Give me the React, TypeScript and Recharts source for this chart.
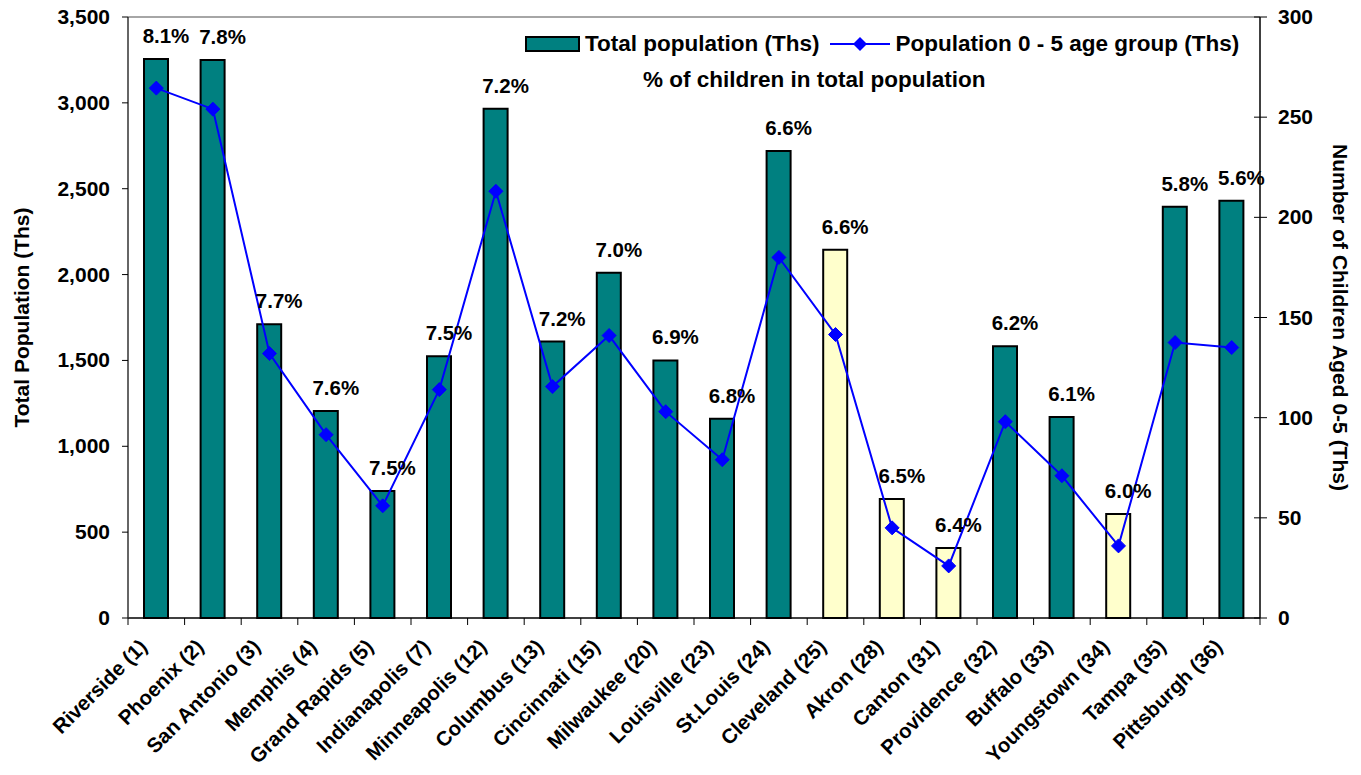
import React from "react";
import {
  ComposedChart,
  Bar,
  Line,
  XAxis,
  YAxis,
  Cell,
  LabelList,
  ReferenceLine,
} from "recharts";

const cities = [
  "Riverside (1)",
  "Phoenix (2)",
  "San Antonio (3)",
  "Memphis (4)",
  "Grand Rapids (5)",
  "Indianapolis (7)",
  "Minneapolis (12)",
  "Columbus (13)",
  "Cincinnati (15)",
  "Milwaukee (20)",
  "Louisville (23)",
  "St.Louis (24)",
  "Cleveland (25)",
  "Akron (28)",
  "Canton (31)",
  "Providence (32)",
  "Buffalo (33)",
  "Youngstown (34)",
  "Tampa (35)",
  "Pittsburgh (36)",
];

const totalPopulation = [
  3255, 3250, 1710, 1205, 740, 1525, 2965, 1610, 2010, 1500, 1160, 2720, 2145,
  693, 408, 1582, 1170, 605, 2395, 2430,
];

const children = [
  264.5, 254, 132, 91.5, 56, 114, 213, 115.5, 141, 103, 79, 180, 141.5, 45,
  26, 98, 71, 36, 137.5, 135,
];

const pctChildren = [
  "8.1%", "7.8%", "7.7%", "7.6%", "7.5%", "7.5%", "7.2%", "7.2%", "7.0%",
  "6.9%", "6.8%", "6.6%", "6.6%", "6.5%", "6.4%", "6.2%", "6.1%", "6.0%",
  "5.8%", "5.6%",
];

const highlighted = [
  "Cleveland (25)",
  "Akron (28)",
  "Canton (31)",
  "Youngstown (34)",
];

const leftTicks = [0, 500, 1000, 1500, 2000, 2500, 3000, 3500];
const rightTicks = [0, 50, 100, 150, 200, 250, 300];

const data = cities.map((c, i) => ({
  city: c,
  total: totalPopulation[i],
  kids: children[i],
  pct: pctChildren[i],
}));

const FONT = "'Liberation Sans', Arial, sans-serif";
const TEAL = "#008080";
const PALE = "#FFFFCC";
const BLUE = "#0000FF";

const CHART_W = 1361;
const PLOT_LEFT = 128;
const PLOT_RIGHT_MARGIN = 101;
const HALF_BAND = (CHART_W - PLOT_LEFT - PLOT_RIGHT_MARGIN) / cities.length / 2;

const fmt = (v: number) => v.toLocaleString("en-US");

const XTick = (props: any) => {
  const { x, y, payload, index } = props;
  const axisY = y - 2;
  return (
    <g>
      <line x1={x - HALF_BAND} x2={x - HALF_BAND} y1={axisY} y2={axisY + 7} stroke="#000" />
      {index === cities.length - 1 && (
        <line x1={x + HALF_BAND} x2={x + HALF_BAND} y1={axisY} y2={axisY + 7} stroke="#000" />
      )}
      <text
        transform={`translate(${x - 8},${y + 28}) rotate(-45)`}
        textAnchor="end"
        fontFamily={FONT}
        fontWeight="bold"
        fontSize={20.5}
        fill="#000"
      >
        {payload.value}
      </text>
    </g>
  );
};

const LeftTick = (props: any) => {
  const { x, y, payload } = props;
  return (
    <text
      x={x}
      y={y}
      dy={7}
      textAnchor="end"
      fontFamily={FONT}
      fontWeight="bold"
      fontSize={21}
      fill="#000"
    >
      {fmt(payload.value)}
    </text>
  );
};

const RightTick = (props: any) => {
  const { x, y, payload } = props;
  return (
    <g>
      <line x1={x - 18} x2={x - 5} y1={y} y2={y} stroke="#000" strokeWidth={1} />
      <text
        x={x + 6}
        y={y}
        dy={7}
        textAnchor="start"
        fontFamily={FONT}
        fontWeight="bold"
        fontSize={21}
        fill="#000"
      >
        {payload.value}
      </text>
    </g>
  );
};

const Diamond = (props: any) => {
  const { cx, cy } = props;
  if (cx == null || cy == null) return null;
  const r = 7;
  return (
    <polygon
      points={`${cx},${cy - r} ${cx + r},${cy} ${cx},${cy + r} ${cx - r},${cy}`}
      fill={BLUE}
      stroke={BLUE}
    />
  );
};

const PctLabel = (props: any) => {
  const { x, y, width, value } = props;
  return (
    <text
      x={x + width / 2 + 10}
      y={y - 16}
      textAnchor="middle"
      fontFamily={FONT}
      fontWeight="bold"
      fontSize={20.5}
      fill="#000"
    >
      {value}
    </text>
  );
};

const LegendBox = () => (
  <div
    style={{
      position: "absolute",
      top: 31,
      left: 525,
      fontFamily: FONT,
      fontWeight: "bold",
      fontSize: 22.5,
      color: "#000",
      lineHeight: "26px",
    }}
  >
    <div style={{ display: "flex", alignItems: "center", whiteSpace: "nowrap" }}>
      <svg width={58} height={20} style={{ marginRight: 2 }}>
        <rect x={1} y={3} width={53} height={14} fill={TEAL} stroke="#000" strokeWidth={2} />
      </svg>
      <span>Total population (Ths)</span>
      <svg width={66} height={20} style={{ marginLeft: 8, marginRight: 2 }}>
        <line x1={2} x2={62} y1={10} y2={10} stroke={BLUE} strokeWidth={2} />
        <polygon points="32,3 39,10 32,17 25,10" fill={BLUE} />
      </svg>
      <span>Population 0 - 5 age group (Ths)</span>
    </div>
    <div style={{ marginTop: 10, marginLeft: 118, whiteSpace: "nowrap" }}>
      % of children in total population
    </div>
  </div>
);

export default function App() {
  return (
    <div style={{ position: "absolute", left: 0, top: 0, width: CHART_W, height: 775, background: "#fff" }}>
      <ComposedChart
        width={CHART_W}
        height={775}
        data={data}
        margin={{ top: 17, right: 0, bottom: 0, left: 0 }}
        barCategoryGap={0}
      >
        <XAxis
          dataKey="city"
          interval={0}
          height={157}
          tick={<XTick />}
          tickLine={false}
          tickSize={0}
          tickMargin={2}
          axisLine={{ stroke: "#000", strokeWidth: 1.5 }}
          scale="band"
        />
        <YAxis
          yAxisId="left"
          domain={[0, 3500]}
          ticks={leftTicks}
          width={PLOT_LEFT}
          tick={<LeftTick />}
          tickSize={6}
          tickMargin={12}
          tickLine={{ stroke: "#000" }}
          axisLine={{ stroke: "#333", strokeWidth: 1.5 }}
          label={{
            value: "Total Population (Ths)",
            angle: -90,
            position: "insideLeft",
            offset: 22,
            style: { fontFamily: FONT, fontWeight: "bold", fontSize: 21, fill: "#000", textAnchor: "middle" },
          }}
        />
        <YAxis
          yAxisId="right"
          orientation="right"
          domain={[0, 300]}
          ticks={rightTicks}
          width={PLOT_RIGHT_MARGIN}
          tick={<RightTick />}
          tickLine={false}
          tickSize={0}
          tickMargin={12}
          axisLine={{ stroke: "#000", strokeWidth: 1.5 }}
          label={{
            value: "Number of Children Aged 0-5 (Ths)",
            angle: 90,
            position: "insideRight",
            offset: 21,
            style: { fontFamily: FONT, fontWeight: "bold", fontSize: 21, fill: "#000", textAnchor: "middle" },
          }}
        />
        <ReferenceLine yAxisId="left" y={3500} stroke="#888" strokeWidth={1.5} />
        <Bar
          yAxisId="left"
          dataKey="total"
          barSize={24}
          stroke="#000"
          strokeWidth={2}
          isAnimationActive={false}
        >
          {data.map((d) => (
            <Cell key={d.city} fill={highlighted.includes(d.city) ? PALE : TEAL} />
          ))}
          <LabelList dataKey="pct" content={<PctLabel />} />
        </Bar>
        <Line
          yAxisId="right"
          dataKey="kids"
          stroke={BLUE}
          strokeWidth={2}
          dot={<Diamond />}
          activeDot={false}
          isAnimationActive={false}
        />
      </ComposedChart>
      <LegendBox />
    </div>
  );
}
